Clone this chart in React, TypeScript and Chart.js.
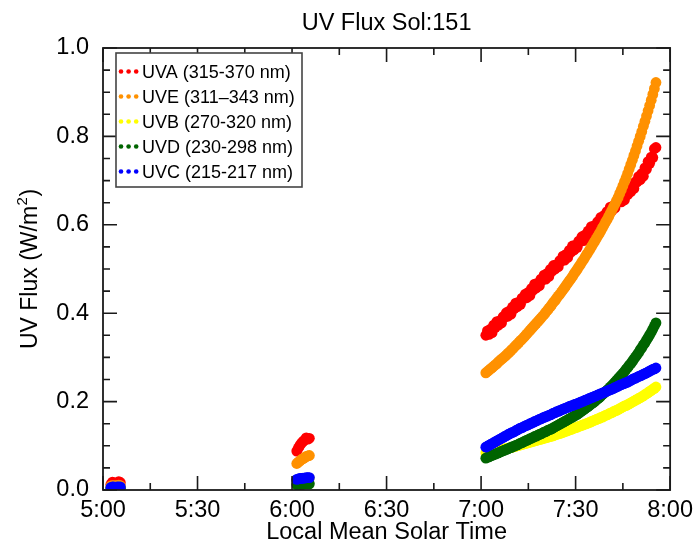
import { useEffect, useRef } from "react";
import { Chart, registerables } from "chart.js";

Chart.register(...registerables);

// Sample times, minutes after midnight (local mean solar time)
const TIMES = [
  302.5, 303, 303.5, 304, 304.5, 305, 305.5,
  361.5, 362, 362.5, 363, 363.5, 364, 364.5, 365, 365.5,
  421.5, 422, 422.5, 423, 423.5, 424, 424.5, 425, 425.5, 426,
  426.5, 427, 427.5, 428, 428.5, 429, 429.5, 430, 430.5, 431,
  431.5, 432, 432.5, 433, 433.5, 434, 434.5, 435, 435.5, 436,
  436.5, 437, 437.5, 438, 438.5, 439, 439.5, 440, 440.5, 441,
  441.5, 442, 442.5, 443, 443.5, 444, 444.5, 445, 445.5, 446,
  446.5, 447, 447.5, 448, 448.5, 449, 449.5, 450, 450.5, 451,
  451.5, 452, 452.5, 453, 453.5, 454, 454.5, 455, 455.5, 456,
  456.5, 457, 457.5, 458, 458.5, 459, 459.5, 460, 460.5, 461,
  461.5, 462, 462.5, 463, 463.5, 464, 464.5, 465, 465.5, 466,
  466.5, 467, 467.5, 468, 468.5, 469, 469.5, 470, 470.5, 471,
  471.5, 472, 472.5, 473, 473.5, 474, 474.5, 475, 475.5,
];

const UVA = [
  0.013, 0.018, 0.016, 0.012, 0.014, 0.019, 0.017,
  0.088, 0.095, 0.101, 0.106, 0.11, 0.113, 0.118, 0.115, 0.117,
  0.35, 0.36, 0.352, 0.364, 0.356, 0.373, 0.368, 0.381, 0.373, 0.383,
  0.378, 0.392, 0.391, 0.401, 0.393, 0.405, 0.398, 0.414, 0.41, 0.423,
  0.415, 0.425, 0.42, 0.434, 0.433, 0.443, 0.435, 0.447, 0.44, 0.456,
  0.452, 0.466, 0.457, 0.468, 0.462, 0.477, 0.475, 0.486, 0.477, 0.49,
  0.483, 0.499, 0.495, 0.508, 0.5, 0.51, 0.505, 0.519, 0.518, 0.529,
  0.52, 0.533, 0.526, 0.542, 0.538, 0.552, 0.543, 0.554, 0.549, 0.563,
  0.562, 0.573, 0.564, 0.577, 0.57, 0.586, 0.582, 0.596, 0.587, 0.598,
  0.593, 0.607, 0.606, 0.617, 0.608, 0.621, 0.614, 0.63, 0.626, 0.64,
  0.632, 0.643, 0.638, 0.652, 0.651, 0.661, 0.652, 0.664, 0.656, 0.673,
  0.668, 0.682, 0.675, 0.686, 0.682, 0.697, 0.697, 0.709, 0.702, 0.716,
  0.71, 0.729, 0.726, 0.743, 0.739, 0.753, 0.752, 0.772, 0.775,
];
const UVE = [
  0.009, 0.01, 0.01, 0.009, 0.01, 0.011, 0.01,
  0.06, 0.063, 0.066, 0.069, 0.071, 0.073, 0.076, 0.077, 0.078,
  0.265, 0.268, 0.271, 0.274, 0.277, 0.28, 0.283, 0.286, 0.29,
  0.293, 0.296, 0.299, 0.302, 0.305, 0.309, 0.312, 0.316, 0.319,
  0.323, 0.327, 0.33, 0.334, 0.338, 0.341, 0.345, 0.349, 0.353,
  0.357, 0.361, 0.365, 0.369, 0.373, 0.377, 0.381, 0.385, 0.389,
  0.393, 0.397, 0.402, 0.406, 0.411, 0.415, 0.42, 0.425, 0.429,
  0.434, 0.439, 0.443, 0.448, 0.453, 0.458, 0.463, 0.468, 0.473,
  0.478, 0.483, 0.489, 0.494, 0.499, 0.505, 0.51, 0.516, 0.521,
  0.527, 0.533, 0.538, 0.544, 0.55, 0.556, 0.562, 0.568, 0.574,
  0.58, 0.586, 0.593, 0.599, 0.606, 0.612, 0.619, 0.626, 0.633,
  0.64, 0.647, 0.655, 0.662, 0.671, 0.679, 0.688, 0.697, 0.706,
  0.716, 0.726, 0.736, 0.746, 0.757, 0.767, 0.778, 0.789, 0.8,
  0.811, 0.823, 0.834, 0.846, 0.858, 0.87, 0.882, 0.895, 0.908,
  0.922,
];
const UVB = [
  0.006, 0.006, 0.007, 0.006, 0.006, 0.007, 0.006,
  0.022, 0.023, 0.024, 0.025, 0.025, 0.026, 0.026, 0.027, 0.027,
  0.084, 0.085, 0.085, 0.086, 0.087, 0.087, 0.088, 0.089, 0.089,
  0.09, 0.091, 0.092, 0.093, 0.094, 0.094, 0.095, 0.096, 0.097,
  0.098, 0.099, 0.1, 0.101, 0.102, 0.103, 0.104, 0.105, 0.106,
  0.107, 0.108, 0.109, 0.11, 0.111, 0.112, 0.113, 0.114, 0.115,
  0.116, 0.117, 0.118, 0.119, 0.12, 0.121, 0.122, 0.123, 0.125,
  0.126, 0.127, 0.128, 0.129, 0.13, 0.132, 0.133, 0.134, 0.136,
  0.137, 0.138, 0.14, 0.141, 0.142, 0.144, 0.145, 0.146, 0.148,
  0.149, 0.15, 0.152, 0.153, 0.155, 0.156, 0.158, 0.159, 0.161,
  0.162, 0.164, 0.165, 0.167, 0.169, 0.17, 0.172, 0.174, 0.175,
  0.177, 0.179, 0.18, 0.182, 0.184, 0.186, 0.188, 0.19, 0.191,
  0.193, 0.195, 0.197, 0.199, 0.201, 0.203, 0.205, 0.207, 0.209,
  0.211, 0.213, 0.216, 0.218, 0.22, 0.223, 0.225, 0.228, 0.23,
  0.233,
];
const UVD = [
  0.004, 0.004, 0.004, 0.004, 0.004, 0.004, 0.004,
  0.012, 0.012, 0.013, 0.013, 0.013, 0.014, 0.014, 0.014, 0.014,
  0.072, 0.074, 0.075, 0.077, 0.078, 0.08, 0.081, 0.083, 0.084,
  0.086, 0.087, 0.089, 0.09, 0.092, 0.093, 0.095, 0.096, 0.098,
  0.099, 0.101, 0.102, 0.104, 0.106, 0.107, 0.109, 0.111, 0.112,
  0.114, 0.116, 0.117, 0.119, 0.121, 0.122, 0.124, 0.126, 0.127,
  0.129, 0.131, 0.132, 0.134, 0.136, 0.137, 0.139, 0.141, 0.143,
  0.145, 0.147, 0.149, 0.151, 0.153, 0.155, 0.157, 0.159, 0.161,
  0.163, 0.165, 0.167, 0.169, 0.171, 0.174, 0.176, 0.179, 0.181,
  0.184, 0.187, 0.189, 0.192, 0.195, 0.197, 0.2, 0.203, 0.206,
  0.209, 0.212, 0.216, 0.219, 0.222, 0.226, 0.229, 0.233, 0.236,
  0.24, 0.244, 0.248, 0.252, 0.256, 0.26, 0.264, 0.268, 0.273,
  0.277, 0.282, 0.286, 0.291, 0.296, 0.301, 0.306, 0.311, 0.317,
  0.322, 0.328, 0.333, 0.339, 0.345, 0.351, 0.357, 0.364, 0.371,
  0.378,
];
const UVC = [
  0.006, 0.007, 0.007, 0.006, 0.007, 0.007, 0.007,
  0.024, 0.025, 0.026, 0.026, 0.027, 0.027, 0.028, 0.028, 0.028,
  0.097, 0.099, 0.101, 0.103, 0.105, 0.107, 0.109, 0.111, 0.113,
  0.115, 0.117, 0.119, 0.121, 0.123, 0.125, 0.127, 0.129, 0.13,
  0.132, 0.134, 0.136, 0.138, 0.14, 0.141, 0.143, 0.145, 0.146,
  0.148, 0.15, 0.151, 0.153, 0.155, 0.156, 0.158, 0.16, 0.161,
  0.163, 0.164, 0.166, 0.167, 0.169, 0.17, 0.172, 0.174, 0.175,
  0.177, 0.178, 0.18, 0.181, 0.183, 0.184, 0.186, 0.187, 0.189,
  0.19, 0.191, 0.193, 0.194, 0.195, 0.197, 0.198, 0.2, 0.201,
  0.203, 0.204, 0.206, 0.207, 0.209, 0.21, 0.212, 0.213, 0.215,
  0.216, 0.218, 0.219, 0.221, 0.222, 0.224, 0.225, 0.227, 0.228,
  0.23, 0.232, 0.233, 0.235, 0.237, 0.238, 0.24, 0.241, 0.243,
  0.244, 0.246, 0.248, 0.25, 0.252, 0.253, 0.255, 0.257, 0.258,
  0.26, 0.262, 0.263, 0.265, 0.267, 0.269, 0.271, 0.273, 0.274,
  0.276,
];

const SERIES_NAMES = [
  "UVA (315-370 nm)",
  "UVE (311\u2013343 nm)",
  "UVB (270-320 nm)",
  "UVD (230-298 nm)",
  "UVC (215-217 nm)",
];
const SERIES_VALUES = [UVA, UVE, UVB, UVD, UVC];
const COLORS = ["#ff0000", "#ff9100", "#ffff00", "#006400", "#0000ff"];

const TITLE = "UV Flux Sol:151";
const X_TITLE = "Local Mean Solar Time";
const Y_TITLE_MAIN = "UV Flux (W/m";
const Y_TITLE_SUP = "2";
const Y_TITLE_END = ")";

const X_MIN = 300;
const X_MAX = 480;
const Y_MIN = 0;
const Y_MAX = 1.0;

const FONT = '"Liberation Sans", Arial, Helvetica, sans-serif';
const INK = "#1a1a1a";
const BIG = 23.5;

const decorPlugin = {
  id: "decor",
  afterDatasetsDraw(chart: any) {
    const { ctx, chartArea, scales } = chart;
    const { left, right, top, bottom } = chartArea;
    const xs = scales.x;
    const ys = scales.y;
    ctx.save();
    ctx.strokeStyle = INK;
    ctx.lineWidth = 1.6;
    ctx.beginPath();
    for (let m = X_MIN; m <= X_MAX; m += 15) {
      const px = xs.getPixelForValue(m);
      const len = (m - X_MIN) % 30 === 0 ? 14 : 7;
      ctx.moveTo(px, bottom);
      ctx.lineTo(px, bottom - len);
      ctx.moveTo(px, top);
      ctx.lineTo(px, top + len);
    }
    for (let i = 0; i <= 20; i++) {
      const py = ys.getPixelForValue(i * 0.05);
      const len = i % 4 === 0 ? 14 : 7;
      ctx.moveTo(left, py);
      ctx.lineTo(left + len, py);
      ctx.moveTo(right, py);
      ctx.lineTo(right - len, py);
    }
    ctx.stroke();
    ctx.lineWidth = 1.8;
    ctx.strokeRect(left, top, right - left, bottom - top);
    ctx.restore();
  },
  afterDraw(chart: any) {
    const { ctx, chartArea } = chart;
    const { left, right, top, bottom } = chartArea;
    ctx.save();
    ctx.fillStyle = "#000";
    ctx.font = `${BIG}px ${FONT}`;
    ctx.textAlign = "center";
    ctx.textBaseline = "alphabetic";
    ctx.fillText(TITLE, (left + right) / 2, 29.5);
    ctx.fillText(X_TITLE, (left + right) / 2, 538.5);
    // rotated y title with superscript
    ctx.translate(37, (top + bottom) / 2);
    ctx.rotate(-Math.PI / 2);
    ctx.textAlign = "left";
    ctx.font = `23px ${FONT}`;
    const wMain = ctx.measureText(Y_TITLE_MAIN).width;
    const wEnd = ctx.measureText(Y_TITLE_END).width;
    ctx.font = `15px ${FONT}`;
    const wSup = ctx.measureText(Y_TITLE_SUP).width;
    const total = wMain + wSup + wEnd + 1;
    let x0 = -total / 2;
    ctx.font = `23px ${FONT}`;
    ctx.fillText(Y_TITLE_MAIN, x0, 0);
    x0 += wMain;
    ctx.font = `15px ${FONT}`;
    ctx.fillText(Y_TITLE_SUP, x0 + 0.5, -10);
    x0 += wSup + 1;
    ctx.font = `23px ${FONT}`;
    ctx.fillText(Y_TITLE_END, x0, 0);
    ctx.restore();

    // legend
    ctx.save();
    const bx = 116;
    const by = 53;
    const bw = 186;
    const bh = 134;
    ctx.fillStyle = "#ffffff";
    ctx.fillRect(bx, by, bw, bh);
    ctx.strokeStyle = "#444";
    ctx.lineWidth = 1.6;
    ctx.strokeRect(bx, by, bw, bh);
    ctx.font = `18px ${FONT}`;
    ctx.textAlign = "left";
    ctx.textBaseline = "alphabetic";
    SERIES_NAMES.forEach((name, i) => {
      const cy = 71.5 + i * 25;
      ctx.fillStyle = COLORS[i];
      for (let k = 0; k < 3; k++) {
        ctx.beginPath();
        ctx.arc(121 + k * 7.6, cy, 2.3, 0, Math.PI * 2);
        ctx.fill();
      }
      ctx.fillStyle = "#000";
      ctx.fillText(name, 142, cy + 6.5);
    });
    ctx.restore();
  },
};

function fmtTime(v: number) {
  const h = Math.floor(v / 60);
  const m = Math.round(v - h * 60);
  return `${h}:${String(m).padStart(2, "0")}`;
}

export default function App() {
  const canvasRef = useRef<HTMLCanvasElement | null>(null);

  useEffect(() => {
    const canvas = canvasRef.current;
    if (!canvas) return;
    const datasets = SERIES_NAMES.map((name, i) => ({
      label: name,
      data: TIMES.map((t, j) => ({ x: t, y: SERIES_VALUES[i][j] })),
      backgroundColor: COLORS[i],
      borderColor: COLORS[i],
      pointRadius: 5.4,
      pointBorderWidth: 0,
      pointHoverRadius: 5.4,
      showLine: false,
      order: SERIES_NAMES.length - i,
    }));
    const chart = new Chart(canvas, {
      type: "scatter",
      data: { datasets },
      options: {
        responsive: false,
        animation: false,
        events: [],
        layout: { padding: { top: 48, right: 26, left: 0, bottom: 0 } },
        plugins: {
          legend: { display: false },
          title: { display: false },
          tooltip: { enabled: false },
        },
        scales: {
          x: {
            type: "linear",
            min: X_MIN,
            max: X_MAX,
            grid: { display: false, drawTicks: false },
            border: { display: false },
            ticks: {
              stepSize: 30,
              padding: 6,
              maxRotation: 0,
              autoSkip: false,
              color: "#000",
              font: { family: FONT, size: BIG },
              callback: (v: any) => fmtTime(Number(v)),
            },
            afterFit: (s: any) => {
              s.height = 56;
            },
          },
          y: {
            type: "linear",
            min: Y_MIN,
            max: Y_MAX,
            grid: { display: false, drawTicks: false },
            border: { display: false },
            ticks: {
              stepSize: 0.2,
              padding: 14,
              color: "#000",
              font: { family: FONT, size: BIG },
              callback: (v: any) => Number(v).toFixed(1),
            },
            afterFit: (s: any) => {
              s.width = 103;
            },
          },
        },
      },
      plugins: [decorPlugin],
    });
    return () => chart.destroy();
  }, []);

  return (
    <div style={{ position: "absolute", left: 0, top: 0, width: 699, height: 546, background: "#fff" }}>
      <canvas ref={canvasRef} width={699} height={546} style={{ width: 699, height: 546, display: "block" }} />
    </div>
  );
}
